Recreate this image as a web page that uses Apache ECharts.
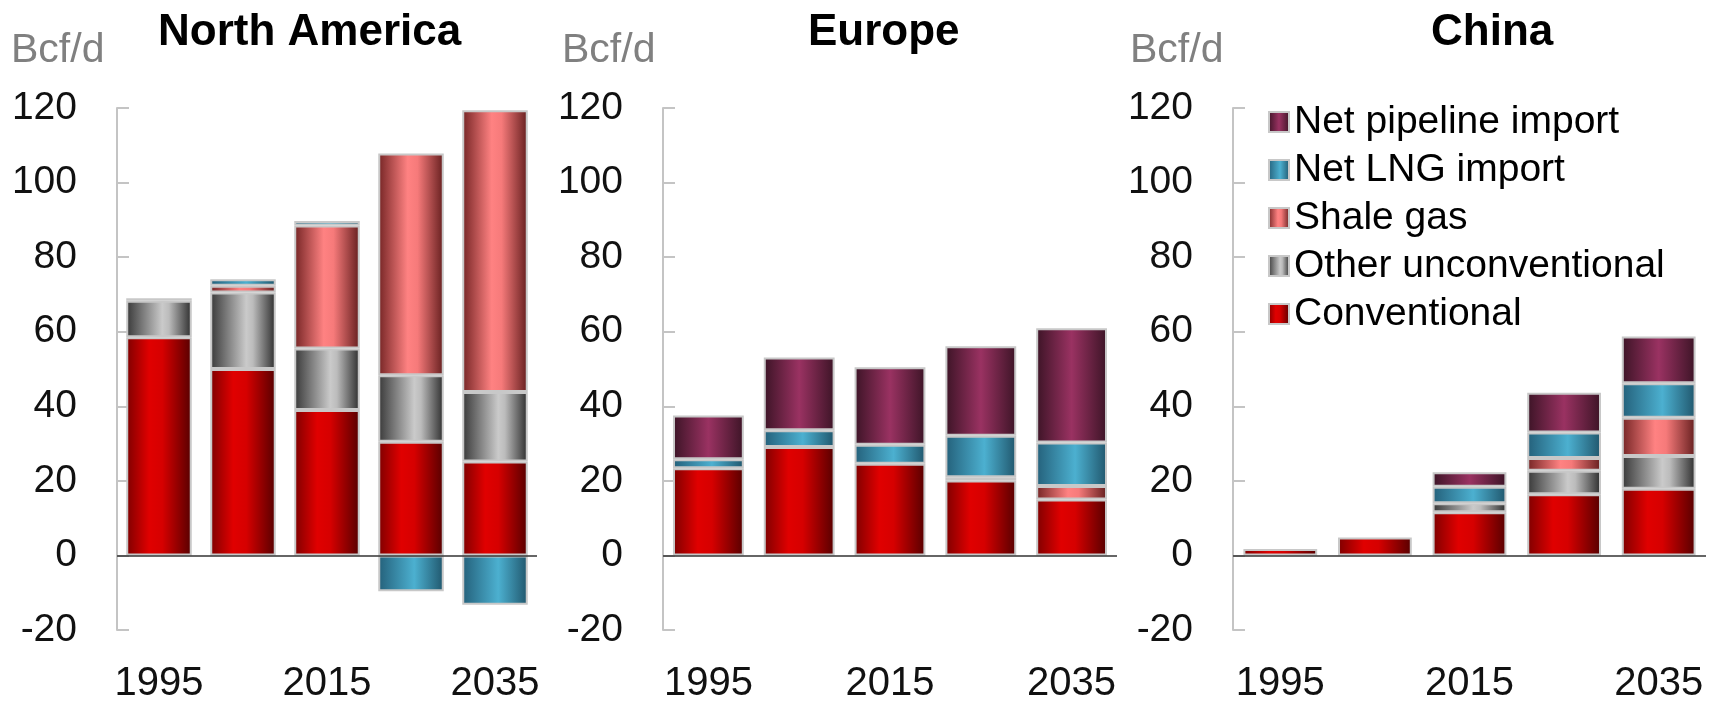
<!DOCTYPE html>
<html>
<head>
<meta charset="utf-8">
<script src="https://cdn.jsdelivr.net/npm/echarts@6/dist/echarts.min.js"></script>
<style>
html,body{margin:0;padding:0;background:#fff;}
#chart{width:1720px;height:702px;}
</style>
</head>
<body>
<div id="chart"></div>
<script>
// ---- Data ----
const years = ['1995', '2005', '2015', '2025', '2035'];
const yTicks = { min: -20, max: 120, interval: 20 };
const unitLabel = 'Bcf/d';
const panelTitles = ['North America', 'Europe', 'China'];
const seriesNames = ['Conventional', 'Other unconventional', 'Shale gas', 'Net LNG import', 'Net pipeline import'];
const legendOrder = ['Net pipeline import', 'Net LNG import', 'Shale gas', 'Other unconventional', 'Conventional'];

// North America
const naConventional = [58.5, 50.0, 39.0, 30.5, 25.2];
const naOtherUnconv  = [9.8, 20.5, 16.5, 17.8, 18.6];
const naShale        = [0.7, 1.8, 33.0, 59.5, 75.6];
const naLng          = [null, 1.8, 1.2, -9.6, -13.2];
const naPipeline     = [null, null, null, null, null];

// Europe
const euConventional = [23.4, 29.1, 24.6, 20.1, 15.0];
const euOtherUnconv  = [null, null, null, null, null];
const euShale        = [null, null, null, 0.9, 3.6];
const euLng          = [2.4, 4.5, 5.1, 11.1, 11.7];
const euPipeline     = [11.7, 19.5, 20.8, 24.0, 30.6];

// China
const cnConventional = [1.7, 4.8, 11.6, 16.4, 17.9];
const cnOtherUnconv  = [null, null, 2.4, 6.3, 8.8];
const cnShale        = [null, null, null, 3.4, 10.2];
const cnLng          = [null, null, 4.4, 6.9, 9.3];
const cnPipeline     = [null, null, 3.9, 10.6, 12.5];

// ---- Styling ----
function grad(stops) {
  return { type: 'linear', x: 0, y: 0, x2: 1, y2: 0,
    colorStops: stops.map(s => ({ offset: s[0], color: s[1] })) };
}
const colors = {
  'Conventional': grad([[0, '#7e0000'], [0.35, '#e00000'], [0.55, '#d60000'], [1, '#560000']]),
  'Other unconventional': grad([[0, '#383838'], [0.55, '#cacaca'], [0.65, '#bcbcbc'], [1, '#2c2c2c']]),
  'Shale gas': grad([[0, '#742424'], [0.45, '#ff8282'], [0.6, '#f67a7a'], [1, '#641e1e']]),
  'Net LNG import': grad([[0, '#24607a'], [0.55, '#4cb0d0'], [1, '#20566c']]),
  'Net pipeline import': grad([[0, '#3c1426'], [0.5, '#9a3262'], [1, '#3c1426']])
};

const panels = [
  { key: 'na', data: [naConventional, naOtherUnconv, naShale, naLng, naPipeline], left: 117, width: 420, titleLeft: 158, unitLeft: 11 },
  { key: 'eu', data: [euConventional, euOtherUnconv, euShale, euLng, euPipeline], left: 663, width: 454, titleLeft: 808, unitLeft: 562 },
  { key: 'cn', data: [cnConventional, cnOtherUnconv, cnShale, cnLng, cnPipeline], left: 1233, width: 473, titleLeft: 1431, unitLeft: 1130 }
];

const gridTop = 108, gridHeight = 522;
const font = 'Liberation Sans';

const grids = [], xAxes = [], yAxes = [], series = [], titles = [];
panels.forEach((p, i) => {
  grids.push({ left: p.left, top: gridTop, width: p.width, height: gridHeight, outerBoundsMode: 'none', containLabel: false });
  xAxes.push({
    type: 'category', gridIndex: i, data: years,
    axisLine: { show: false, onZero: false },
    axisTick: { show: false },
    axisLabel: { interval: 1, margin: 34, fontSize: 40, fontFamily: font, color: '#111' },
    splitLine: { show: false }
  });
  yAxes.push({
    type: 'value', gridIndex: i, min: yTicks.min, max: yTicks.max, interval: yTicks.interval,
    axisLine: { show: true, lineStyle: { color: '#c4c4c4', width: 2 } },
    axisTick: { show: true, inside: true, length: 12, lineStyle: { color: '#c4c4c4', width: 2 } },
    axisLabel: { margin: 40, fontSize: 39, fontFamily: font, color: '#111' },
    splitLine: { show: false }
  });
  seriesNames.forEach((name, k) => {
    const s = {
      type: 'bar', name: name, xAxisIndex: i, yAxisIndex: i, stack: p.key,
      data: p.data[k], barCategoryGap: '22%',
      itemStyle: { color: colors[name], borderColor: '#c8c8c8', borderWidth: 2 },
      emphasis: { disabled: true }
    };
    if (k === 0) {
      s.markLine = {
        silent: true, symbol: 'none', label: { show: false },
        lineStyle: { color: '#333', width: 1.5, type: 'solid' },
        data: [{ yAxis: 0 }]
      };
    }
    series.push(s);
  });
  titles.push({
    text: panelTitles[i], left: p.titleLeft, top: 11, padding: 0,
    textStyle: { fontFamily: font, fontWeight: 'bold', fontSize: 44, color: '#000' }
  });
  titles.push({
    text: unitLabel, left: p.unitLeft, top: 30, padding: 0,
    textStyle: { fontFamily: font, fontWeight: 'normal', fontSize: 41, color: '#808080' }
  });
});

const chart = echarts.init(document.getElementById('chart'), null, { renderer: 'canvas' });
chart.setOption({
  backgroundColor: '#fff',
  animation: false,
  title: titles,
  grid: grids,
  xAxis: xAxes,
  yAxis: yAxes,
  legend: {
    data: legendOrder, orient: 'vertical', left: 1268, top: 98, padding: 0,
    icon: 'rect', itemWidth: 20, itemHeight: 20, itemGap: 0,
    textStyle: { fontFamily: font, fontSize: 39, color: '#000', lineHeight: 48 }
  },
  series: series
});
</script>
</body>
</html>
